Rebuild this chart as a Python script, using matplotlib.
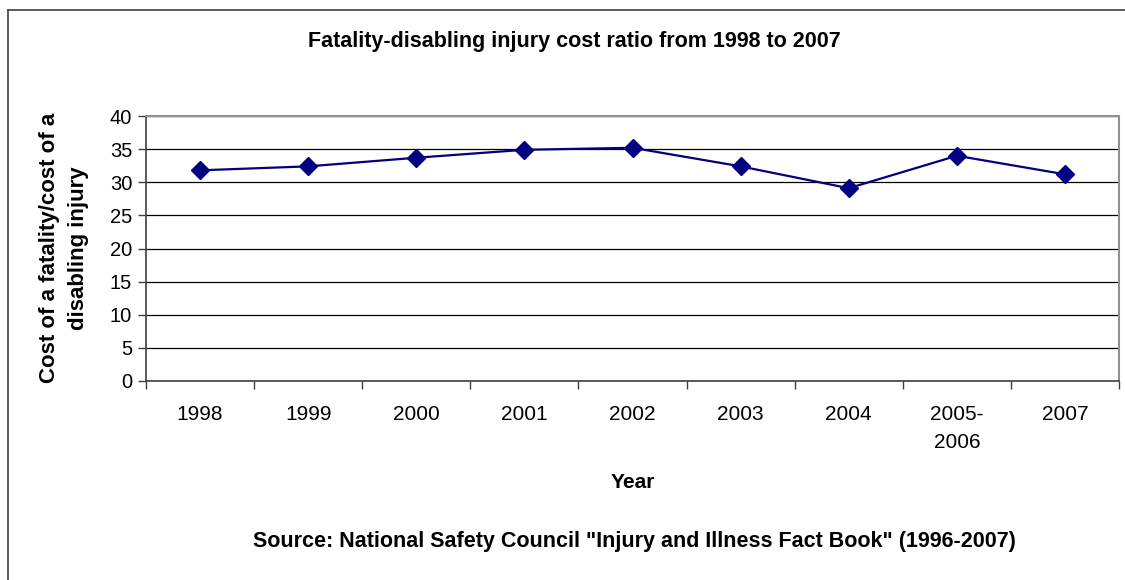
import matplotlib
matplotlib.use("Agg")
import matplotlib.pyplot as plt
from matplotlib.lines import Line2D

categories = ["1998", "1999", "2000", "2001", "2002", "2003", "2004", "2005-\n2006", "2007"]
values = [31.8, 32.4, 33.7, 34.9, 35.2, 32.4, 29.1, 34.0, 31.2]
yticks = [0, 5, 10, 15, 20, 25, 30, 35, 40]

W, H = 1125, 580
plt.rcParams['font.family'] = ['Liberation Sans', 'DejaVu Sans']
fig = plt.figure(figsize=(W / 100, H / 100), dpi=100)

# outer chart frame (left & top visible)
fig.add_artist(Line2D([7.5 / W, 7.5 / W], [0, 1 - 10 / H], transform=fig.transFigure, color='#404040', lw=1.2))
fig.add_artist(Line2D([7.5 / W, 1], [1 - 10 / H, 1 - 10 / H], transform=fig.transFigure, color='#404040', lw=1.2))

left, right, top, bottom = 146, 1119, 116, 381
ax = fig.add_axes([left / W, 1 - bottom / H, (right - left) / W, (bottom - top) / H])

x = list(range(len(categories)))
ax.plot(x, values, color='#000080', lw=1.6, marker='D', markersize=9, markeredgecolor='#000080', zorder=3)

ax.set_xlim(-0.5, len(categories) - 0.5)
ax.set_ylim(0, 40)
ax.set_yticks(yticks)
ax.set_yticklabels([str(v) for v in yticks], fontsize=14.5)
ax.yaxis.grid(True, color='black', lw=0.9)
ax.set_axisbelow(True)

ax.set_xticks([i - 0.5 for i in range(len(categories) + 1)])
ax.set_xticklabels([])
ax.set_xticks(x, minor=True)
ax.set_xticklabels(categories, minor=True, fontsize=15, linespacing=1.6, va='top')
ax.tick_params(axis='x', which='major', length=6, direction='out', width=1, color='#404040')
ax.tick_params(axis='x', which='minor', length=0, pad=17)
ax.tick_params(axis='y', length=6, direction='out', width=1, color='#404040', pad=4)

for s in ['top', 'right']:
    ax.spines[s].set_color('#909090')
    ax.spines[s].set_linewidth(1.5)
for s in ['left', 'bottom']:
    ax.spines[s].set_color('#404040')
    ax.spines[s].set_linewidth(1.2)

fig.text(574 / W, 1 - 42 / H, "Fatality-disabling injury cost ratio from 1998 to 2007",
         ha='center', va='center', fontsize=15.5, fontweight='bold')
fig.text(632.5 / W, 1 - 483 / H, "Year", ha='center', va='center', fontsize=15, fontweight='bold')
fig.text(64 / W, 1 - 248 / H, "Cost of a fatality/cost of a\ndisabling injury", ha='center', va='center',
         rotation=90, fontsize=16, fontweight='bold', linespacing=1.55)
fig.text(634 / W, 1 - 541 / H, "Source: National Safety Council \"Injury and Illness Fact Book\" (1996-2007)",
         ha='center', va='center', fontsize=15.5, fontweight='bold')

fig.savefig("out.png", dpi=100)
